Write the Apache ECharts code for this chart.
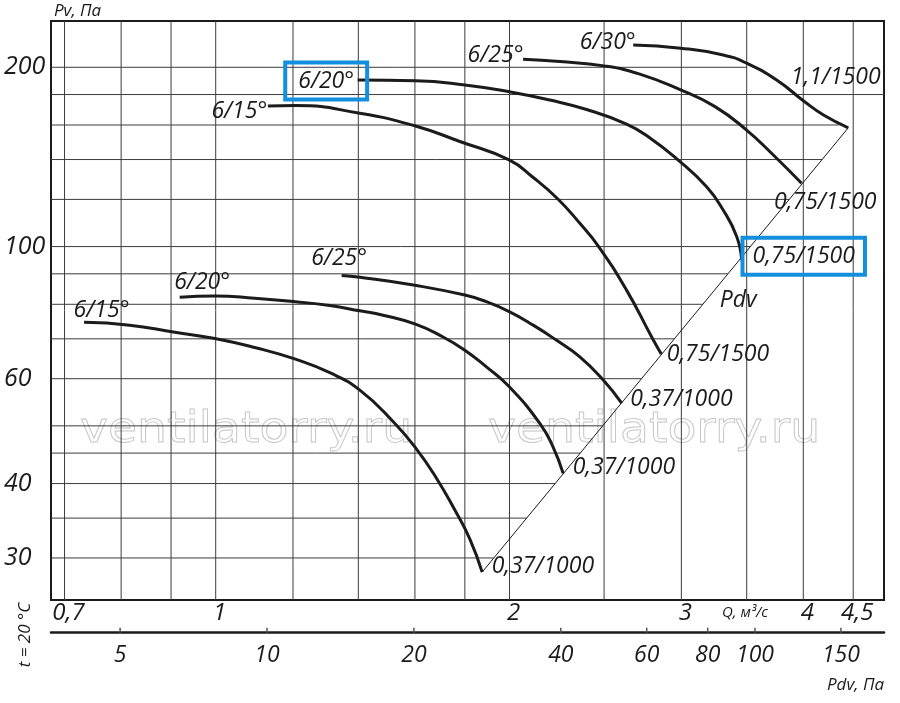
<!DOCTYPE html>
<html>
<head>
<meta charset="utf-8">
<title>Pv(Q)</title>
<script src="https://cdn.jsdelivr.net/npm/echarts@6.0.0/dist/echarts.min.js"></script>
<style>
  html, body { margin: 0; padding: 0; background: #fff; }
  #chart { width: 900px; height: 703px; }
</style>
</head>
<body>
<div id="chart"></div>
<script>
// plot frame ranges: Q in m3/s, Pv in Pa (both log)
var qMin = 0.678, qMax = 4.839
var pvMin = 25.5, pvMax = 239.2
// lower scale Pdv = pdvK * Q^2
var pdvK = 7.85

var qGrid = [0.7, 0.8, 0.9, 1, 1.2, 1.4, 1.6, 1.8, 2, 2.5, 3, 3.5, 4, 4.5]
var pvGrid = [30, 35, 40, 45, 50, 60, 70, 80, 90, 100, 120, 140, 160, 180, 200]
// horizontal lines that do not stop at the Pdv line
var pvGridEnd = {160: 4.35, 180: qMax, 200: 3.5}
var qTicks = [0.7, 1, 2, 3, 4, 4.5]
var qTickText = ['0,7', '1', '2', '3', '4', '4,5']
var pvTicks = [30, 40, 60, 100, 200]
var pdvTicks = [5, 10, 20, 40, 60, 80, 100, 150]

// Pdv line (end points)
var pdvLine = [[1.875, 28.4], [4.448, 158.3]]

// n = 1000 rpm
var c15_1000 = [[0.733, 74.6], [0.816, 73.8], [0.908, 71.8], [0.998, 70.1], [1.096, 67.7], [1.207, 64.7],
  [1.309, 61.4], [1.405, 57.4], [1.522, 50.7], [1.606, 45.7], [1.684, 40.8], [1.758, 36.1], [1.821, 32.3], [1.875, 28.4]]
var c20_1000 = [[0.9185, 82.2], [0.998, 82.6], [1.096, 81.9], [1.207, 80.8], [1.309, 79.6], [1.405, 78.0],
  [1.484, 76.7], [1.602, 74.1], [1.710, 70.5], [1.800, 67.0], [1.894, 62.8], [1.998, 58.2], [2.148, 50.5], [2.215, 46.2], [2.270, 41.6]]
var c25_1000 = [[1.346, 89.4], [1.405, 88.8], [1.600, 86.1], [1.800, 82.9], [1.894, 80.8], [2.001, 77.7],
  [2.115, 73.8], [2.235, 69.6], [2.361, 65.3], [2.495, 59.7], [2.606, 54.6]]
// n = 1500 rpm
var c15_1500 = [[1.131, 172.2], [1.207, 172.5], [1.405, 167.4], [1.602, 159.4], [1.779, 150.1], [1.998, 139.8],
  [2.115, 130.6], [2.243, 120.1], [2.361, 109.4], [2.465, 100.3], [2.636, 84.5], [2.797, 70.5], [2.861, 66.0]]
var c20_1500 = [[1.398, 190.4], [1.602, 189.9], [1.800, 186.8], [1.998, 182.0], [2.200, 176.2], [2.399, 169.9],
  [2.636, 160.6], [2.786, 152.2], [2.976, 139.8], [3.184, 126.0], [3.311, 115.2], [3.419, 103.9], [3.459, 94.9]]
var c25_1500 = [[2.065, 206.3], [2.253, 204.5], [2.499, 201.1], [2.720, 194.8], [2.995, 183.2], [3.248, 171.8],
  [3.499, 156.9], [3.727, 142.5], [3.984, 127.7]]
var c30_1500 = [[2.678, 218.0], [2.995, 215.3], [3.311, 209.8], [3.499, 203.2], [3.756, 190.4], [4.010, 175.2],
  [4.195, 166.3], [4.448, 158.3]]

var FONT = 'Open Sans'
var INK = '#1b1b1b'
var BLUE = '#138fdd'

// label offsets are in px from the curve's first / last point
var curves = [
  {data: c15_1000, angle: '6/15°', motor: '0,37/1000', angleAt: [-10, -11], motorAt: [10, -5.5]},
  {data: c20_1000, angle: '6/20°', motor: '0,37/1000', angleAt: [-5, -14], motorAt: [10, -5]},
  {data: c25_1000, angle: '6/25°', motor: '0,37/1000', angleAt: [-30, -17], motorAt: [9, -3]},
  {data: c15_1500, angle: '6/15°', motor: '0,75/1500', angleAt: [-56, 6], motorAt: [6, 1]},
  {data: c20_1500, angle: '6/20°', motor: '0,75/1500', angleAt: [-72, 1.5], motorAt: [1.3, -3.3],
    anglePad: [7, 13, 7, 13], motorPad: [7, 10, 7, 10]},
  {data: c25_1500, angle: '6/25°', motor: '0,75/1500', angleAt: [-55, -3.5], motorAt: [-27, 19.5]},
  {data: c30_1500, angle: '6/30°', motor: '1,1/1500', angleAt: [-53, -2.5], motorAt: [-57, -50]}
]

function lg(v) { return Math.log(v) / Math.LN10 }

// Q on the Pdv line for a given Pv
function pdvLineQ(pv) {
  var q1 = lg(pdvLine[0][0]), p1 = lg(pdvLine[0][1])
  var q2 = lg(pdvLine[1][0]), p2 = lg(pdvLine[1][1])
  return Math.pow(10, q1 + (lg(pv) - p1) * (q2 - q1) / (p2 - p1))
}

function textLabel(text, at, pad) {
  var l = {
    show: true, formatter: text, position: at, align: 'left', verticalAlign: 'middle',
    color: INK, fontSize: 23, fontStyle: 'italic', fontFamily: FONT
  }
  if (pad) {
    l.borderColor = BLUE
    l.borderWidth = 4
    l.padding = pad
  }
  return l
}

function curveSeries(c) {
  var last = c.data.length - 1
  return {
    type: 'line', smooth: 0.5, silent: true, z: 4,
    symbol: 'circle', symbolSize: 1, itemStyle: {color: 'rgba(0,0,0,0)'},
    lineStyle: {color: INK, width: 3},
    data: c.data.map(function (p, i) {
      var item = {value: p}
      if (i === 0) item.label = textLabel(c.angle, c.angleAt, c.anglePad)
      else if (i === last) item.label = textLabel(c.motor, c.motorAt, c.motorPad)
      return item
    })
  }
}

function txt(x, y, s, size, align) {
  return {
    type: 'text', x: x, y: y,
    style: {text: s, fill: INK, fontSize: size, fontStyle: 'italic', fontFamily: FONT,
      align: align || 'center', verticalAlign: 'middle'}
  }
}

function watermark(x) {
  return {
    type: 'text', x: x, y: 431, z: 0, silent: true, scaleX: 1.1,
    style: {text: 'ventilatorry.ru', fontSize: 43, fontFamily: 'DejaVu Sans', fill: 'rgba(0,0,0,0)',
      stroke: '#c6c6c6', lineWidth: 0.9, verticalAlign: 'middle'}
  }
}

var series = [
  // vertical grid
  {
    type: 'custom', silent: true, z: 1,
    data: qGrid.map(function (q) { return [q, pvMin] }),
    renderItem: function (params, api) {
      var a = api.coord([api.value(0), pvMin]), b = api.coord([api.value(0), pvMax])
      return {type: 'line', shape: {x1: a[0], y1: a[1], x2: b[0], y2: b[1]},
        style: {stroke: '#3c3c3c', lineWidth: 1}}
    }
  },
  // horizontal grid, stopping at the Pdv line
  {
    type: 'custom', silent: true, z: 1,
    data: pvGrid.map(function (pv) { return [pvGridEnd[pv] || pdvLineQ(pv), pv] }),
    renderItem: function (params, api) {
      var pv = api.value(1)
      var a = api.coord([qMin, pv]), b = api.coord([api.value(0), pv])
      return {type: 'line', shape: {x1: a[0], y1: a[1], x2: b[0], y2: b[1]},
        style: {stroke: '#3c3c3c', lineWidth: 1}}
    }
  },
  // Q tick labels under the frame
  {
    type: 'custom', silent: true, z: 5,
    data: qTicks.map(function (q) { return [q, pvMin] }),
    renderItem: function (params, api) {
      var c = api.coord([api.value(0), pvMin])
      return txt(c[0] + 4, c[1] + 13, qTickText[params.dataIndex], 24)
    }
  },
  // Pv tick labels
  {
    type: 'custom', silent: true, z: 5,
    data: pvTicks.map(function (pv) { return [qMin, pv] }),
    renderItem: function (params, api) {
      var c = api.coord([qMin, api.value(1)])
      return txt(c[0] - 47, c[1], String(api.value(1)), 25, 'left')
    }
  },
  // Pdv line
  {
    type: 'line', silent: true, z: 3, symbol: 'none',
    lineStyle: {color: INK, width: 1},
    data: pdvLine,
    markPoint: {
      silent: true, symbol: 'circle', symbolSize: 1, itemStyle: {color: 'rgba(0,0,0,0)'},
      data: [{coord: [3.43, 81.3], label: {show: true, formatter: 'Pdv', color: INK, fontSize: 23,
        fontStyle: 'italic', fontFamily: FONT, position: 'inside'}}]
    }
  },
  // Pdv scale ticks and labels
  {
    type: 'custom', silent: true, xAxisIndex: 1, yAxisIndex: 1, z: 5,
    data: pdvTicks.map(function (p) { return [p, 0] }),
    renderItem: function (params, api) {
      var c = api.coord([api.value(0), 0])
      return {
        type: 'group',
        children: [
          {type: 'line', shape: {x1: c[0], y1: c[1] - 5, x2: c[0], y2: c[1]},
            style: {stroke: '#555', lineWidth: 1.5}},
          txt(c[0], c[1] + 23, String(api.value(0)), 23)
        ]
      }
    }
  }
].concat(curves.map(curveSeries))

var option = {
  animation: false,
  backgroundColor: '#fff',
  textStyle: {fontFamily: FONT},
  grid: [
    {left: 51, right: 16, top: 21, bottom: 103, show: true, borderColor: INK, borderWidth: 2,
      containLabel: false, outerBoundsMode: 'none'},
    {left: 51, right: 16, top: 600, bottom: 70.3, show: false, containLabel: false, outerBoundsMode: 'none'}
  ],
  xAxis: [
    {type: 'log', logBase: 10, min: qMin, max: qMax, gridIndex: 0,
      axisLine: {show: false}, axisTick: {show: false}, axisLabel: {show: false}, splitLine: {show: false}},
    {type: 'log', logBase: 10, min: pdvK * qMin * qMin, max: pdvK * qMax * qMax, gridIndex: 1,
      axisLine: {show: true, lineStyle: {color: INK, width: 2.5}},
      axisTick: {show: false}, axisLabel: {show: false}, splitLine: {show: false}}
  ],
  yAxis: [
    {type: 'log', logBase: 10, min: pvMin, max: pvMax, gridIndex: 0,
      axisLine: {show: false}, axisTick: {show: false}, axisLabel: {show: false}, splitLine: {show: false}},
    {type: 'value', min: 0, max: 1, gridIndex: 1, show: false}
  ],
  graphic: [
    watermark(80),
    watermark(488),
    txt(54, 11, 'Pv, Па', 17, 'left'),
    txt(722, 613, 'Q, м³/с', 15, 'left'),
    txt(827, 685, 'Pdv, Па', 17, 'left'),
    Object.assign(txt(25, 635, 't = 20 °C', 17), {rotation: Math.PI / 2})
  ],
  series: series
}

var chart = echarts.init(document.getElementById('chart'))
chart.setOption(option)
</script>
</body>
</html>
